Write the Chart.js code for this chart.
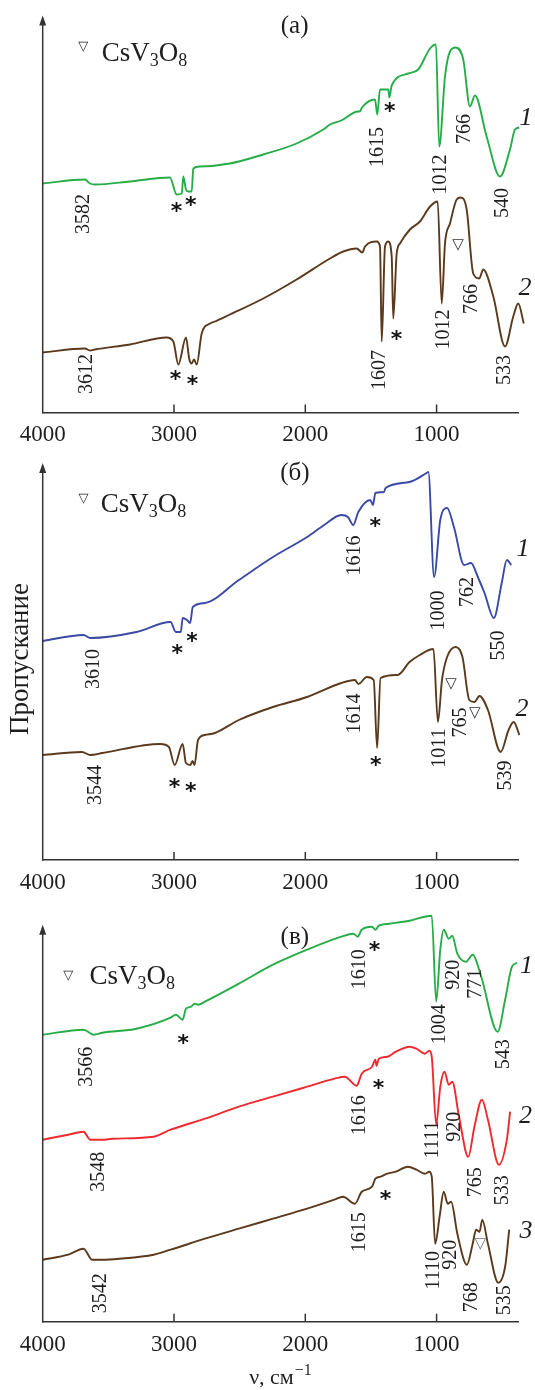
<!DOCTYPE html>
<html><head><meta charset="utf-8">
<script src="https://cdn.jsdelivr.net/npm/chart.js@4"></script>
<style>
html,body{margin:0;padding:0;background:#fff;}
#wrap{position:relative;width:535px;height:1390px;overflow:hidden;}
.panel{position:absolute;left:0;width:535px;}
</style></head><body>
<div id="wrap">
  <div class="panel" style="top:0;height:460px"><canvas id="cA"></canvas></div>
  <div class="panel" style="top:440px;height:460px"><canvas id="cB"></canvas></div>
  <div class="panel" style="top:900px;height:490px"><canvas id="cC"></canvas></div>
</div>
<script>
// ---------- DATA (wavenumber, cm^-1 ; transmittance, arb. units) ----------
const xTickValues = [4000, 3000, 2000, 1000];
const innerTickValues = [3000, 2000, 1000];

// Panel (а)
const wnA1 = [4000,3678,3640,3602,3335,3031,2980,2941,2929,2909,2891,2865,2853,2802,2574,2320,2066,1863,1812,1726,1599,1584,1568,1469,1452,1431,1368,1360,1342,1216,1140,1050,1005,980,936,898,855,797,746,708,619,517,441,403,370];
const trA1 = [229,233,229,228,231,235,218,219,236,223,221,221,244,246,249,258,269,283,288,292,301,301,305,313,298,323,323,315,327,339,343,364,368,266,336,361,365,353,306,317,276,236,263,283,285];
const wnA2 = [4000,3678,3640,3602,3335,3056,3005,2967,2909,2883,2865,2848,2827,2789,2726,2688,2574,2320,2066,1812,1711,1609,1566,1545,1456,1431,1418,1393,1368,1342,1330,1304,1279,1203,1127,1050,992,961,936,898,847,817,771,721,675,645,568,479,416,378,336];
const trA2 = [60,64,62,63,68,75,71,48,75,53,49,53,48,79,89,91,98,114,133,154,161,164,160,166,171,166,71,166,171,156,94,159,169,183,191,206,211,109,169,189,213,215,203,139,134,143,116,66,96,109,89];

// Panel (б)
const wnB1 = [4000,3689,3637,3286,3026,2986,2948,2934,2901,2877,2857,2765,2506,2246,1986,1856,1726,1675,1635,1596,1505,1485,1466,1401,1388,1206,1076,1063,1019,972,920,868,790,738,686,635,564,504,465,431];
const trB1 = [219,225,222,228,238,228,228,242,240,237,253,257,280,303,323,335,345,343,335,348,360,355,367,368,372,378,387,388,283,340,352,333,295,297,283,267,242,277,300,295];
const wnB2 = [4000,3701,3637,3545,3104,3039,2995,2934,2909,2875,2859,2844,2817,2765,2688,2506,2246,1986,1726,1622,1596,1531,1479,1453,1427,1297,1206,1128,1024,990,959,920,855,803,751,712,673,609,512,452,413,369];
const trB2 = [105,108,105,107,116,113,95,116,97,95,99,95,120,125,127,140,153,163,177,180,176,183,180,112,182,185,198,205,211,138,180,203,213,203,160,158,164,150,108,130,138,125];

// Panel (в)
const wnC1 = [4000,3689,3610,3545,3286,3026,2986,2934,2909,2870,2844,2817,2765,2506,2246,1986,1726,1635,1601,1570,1492,1466,1440,1362,1206,1037,1003,972,946,907,881,842,777,725,660,535,478,426,387];
const trC1 = [287,292,287,289,293,304,307,302,313,315,318,317,320,338,357,372,385,388,385,392,395,392,396,398,401,406,320,372,392,383,386,368,360,367,345,290,322,355,359];
const wnC2 = [4000,3805,3689,3637,3545,3468,3155,3026,2765,2506,2246,1986,1778,1700,1609,1570,1492,1466,1458,1440,1375,1310,1206,1154,1089,1055,1037,1003,972,940,907,881,829,759,712,655,609,525,465,440];
const trC2 = [182,187,190,182,182,183,185,192,203,215,225,235,243,245,236,248,255,262,256,263,265,270,275,273,268,271,265,197,235,250,237,240,205,165,195,222,202,157,182,210];
const wnC3 = [4000,3805,3689,3623,3545,3415,3155,3026,2765,2506,2246,1986,1778,1713,1622,1570,1492,1466,1427,1375,1310,1219,1154,1089,1055,1037,1011,977,946,915,889,842,769,725,699,673,652,609,530,478,447];
const trC3 = [62,67,73,62,62,63,67,72,83,93,103,113,122,125,118,130,135,143,145,148,150,155,152,148,150,145,78,105,130,118,120,88,57,78,92,90,102,78,39,55,92];

// Band labels (text, wavenumber, transmittance where the label sits)
const bandLabelsA = [['3582',3701,198],['1615',1462,266],['1012',980,238],['766',797,284],['540',506,210],
                     ['3612',3676,38],['1607',1449,43],['1012',961,83],['766',746,114],['533',492,43]];
const starsA = [[2979,206],[2870,212],[1355,306],[2986,38],[2857,33],[1304,78]];
const trianglesA = [[835,168]];
const curveNumsA = [['1',327,296],['2',327,126]];

const bandLabelsB = [['3610',3623,191],['1616',1635,305],['1000',998,250],['762',777,268],['550',543,215],
                     ['3544',3610,75],['1614',1635,147],['1011',990,112],['765',831,138],['539',484,85]];
const starsB = [[2973,211],[2861,223],[1466,338],[2995,77],[2870,73],[1461,99]];
const trianglesB = [[889,176],[708,147]];
const curveNumsB = [['1',350,313],['2',350,153]];

const bandLabelsC = [['3566',3676,255],['1610',1596,353],['1004',990,298],['920',881,347],['771',712,338],['543',504,268],
                     ['3548',3584,150],['1616',1596,207],['1111',1045,182],['920',874,195],['765',712,140],['533',510,132],
                     ['3542',3571,28],['1615',1596,90],['1110',1037,52],['920',907,67],['768',744,25],['535',496,22]];
const starsC = [[2927,283],[1471,376],[1440,238],[1388,127]];
const trianglesC = [[666,78]];
const curveNumsC = [['1',322,357],['2',322,207],['3',322,92]];

const panelTitles = ['(а)', '(б)', '(в)'];
const legendText = ['CsV', '3', 'O', '8'];
const yTitle = 'Пропускание';
const xTitleMain = 'ν, см';
const xTitleSup = '−1';

// ---------- STYLE ----------
const SERIF = '"Liberation Serif","Times New Roman",serif';
const AXIS = '#333';
const TXT = '#1e1e1e';
const GREEN = '#27ad48', BROWN = '#5a391c', BLUE = '#3949a4', RED = '#ee2a2e';

function drawCentered(ctx, txt, x, y, font, color) {
  ctx.font = font; ctx.fillStyle = color;
  ctx.textAlign = 'left'; ctx.textBaseline = 'alphabetic';
  const m = ctx.measureText(txt);
  ctx.fillText(txt, x - (m.actualBoundingBoxRight - m.actualBoundingBoxLeft) / 2,
                    y + (m.actualBoundingBoxAscent - m.actualBoundingBoxDescent) / 2);
}

function decorPlugin(cfg) {
  return {
    id: 'decor',
    afterDraw(chart) {
      const {ctx, chartArea} = chart;
      const xs = chart.scales.x, ys = chart.scales.y;
      const X = v => xs.getPixelForValue(v), Y = v => ys.getPixelForValue(v);
      ctx.save();
      // y axis with arrow
      const ax = chartArea.left, tipY = Y(397);
      ctx.strokeStyle = AXIS; ctx.fillStyle = AXIS; ctx.lineWidth = 1.5;
      ctx.beginPath(); ctx.moveTo(ax, chartArea.bottom + 0.75); ctx.lineTo(ax, tipY + 6); ctx.stroke();
      ctx.beginPath(); ctx.moveTo(ax, tipY); ctx.lineTo(ax - 3.5, tipY + 10); ctx.lineTo(ax + 3.5, tipY + 10); ctx.closePath(); ctx.fill();
      // inner tick marks
      for (const v of innerTickValues) {
        ctx.beginPath(); ctx.moveTo(X(v), chartArea.bottom); ctx.lineTo(X(v), chartArea.bottom - 8); ctx.stroke();
      }
      // band labels (rotated)
      for (const [t, wv, tv] of cfg.bands) {
        ctx.save(); ctx.translate(X(wv), Y(tv)); ctx.rotate(-Math.PI / 2);
        drawCentered(ctx, t, 0, 0, `20px ${SERIF}`, TXT);
        ctx.restore();
      }
      for (const [wv, tv] of cfg.stars) drawCentered(ctx, '*', X(wv), Y(tv), 'bold 22px "DejaVu Sans"', '#111');
      for (const [wv, tv] of cfg.tris) drawCentered(ctx, '▽', X(wv), Y(tv), 'bold 15px "DejaVu Sans"', cfg.triColor || '#333');
      for (const [t, wv, tv] of cfg.nums) drawCentered(ctx, t, X(wv), Y(tv), `italic 26px ${SERIF}`, TXT);
      // panel title
      drawCentered(ctx, cfg.title[0], X(cfg.title[1]), Y(cfg.title[2]), `25px ${SERIF}`, TXT);
      // legend
      const [lw, lt, tw, tt] = cfg.legend;
      drawCentered(ctx, '▽', X(tw), Y(tt), 'bold 13px "DejaVu Sans"', TXT);
      let cx = X(lw); const by = Y(lt);
      ctx.textAlign = 'left'; ctx.textBaseline = 'alphabetic'; ctx.fillStyle = TXT;
      legendText.forEach((s, i) => {
        const sub = i % 2 === 1;
        ctx.font = sub ? `18px ${SERIF}` : `27px ${SERIF}`;
        ctx.fillText(s, cx, by + (sub ? 5 : 0));
        cx += ctx.measureText(s).width;
      });
      // y title
      if (cfg.yTitle) {
        ctx.save(); ctx.translate(X(cfg.yTitle[1]), Y(cfg.yTitle[2])); ctx.rotate(-Math.PI / 2);
        drawCentered(ctx, cfg.yTitle[0], 0, 0, `27px ${SERIF}`, TXT);
        ctx.restore();
      }
      // x title
      if (cfg.xTitle) {
        const [wv, tv] = cfg.xTitle;
        ctx.font = `22px ${SERIF}`; const w1 = ctx.measureText(xTitleMain).width;
        ctx.font = `16px ${SERIF}`; const w2 = ctx.measureText(xTitleSup).width;
        let sx = X(wv) - (w1 + w2) / 2; const sy = Y(tv);
        ctx.textAlign = 'left'; ctx.textBaseline = 'alphabetic'; ctx.fillStyle = TXT;
        ctx.font = `22px ${SERIF}`; ctx.fillText(xTitleMain, sx, sy);
        ctx.font = `16px ${SERIF}`; ctx.fillText(xTitleSup, sx + w1 + 1, sy - 9);
      }
      ctx.restore();
    }
  };
}

function makePanel(id, series, layout, cfg) {
  return new Chart(document.getElementById(id), {
    type: 'line',
    data: {
      datasets: series.map(s => ({
        data: s.wn.map((v, i) => ({x: v, y: s.tr[i]})),
        borderColor: s.color, borderWidth: 1.9, pointRadius: 0, fill: false,
        cubicInterpolationMode: 'monotone', clip: false
      }))
    },
    options: {
      responsive: true, maintainAspectRatio: false, animation: false,
      layout: {padding: {left: 42.7, right: 17, top: layout.top, bottom: layout.bottom}},
      plugins: {legend: {display: false}, tooltip: {enabled: false}},
      events: [],
      scales: {
        x: {
          type: 'linear', reverse: true, min: 380, max: 4000,
          afterBuildTicks: s => { s.ticks = xTickValues.map(v => ({value: v})); },
          afterFit: s => { s.height = 40; },
          grid: {display: false, drawTicks: false},
          border: {display: true, color: AXIS, width: 1.5},
          ticks: {font: {family: SERIF, size: 23}, color: TXT, padding: 9, maxRotation: 0, autoSkip: false,
                  callback: v => String(v)}
        },
        y: {display: false, min: 0, max: 400}
      }
    },
    plugins: [decorPlugin(cfg)]
  });
}

makePanel('cA', [
  {wn: wnA1, tr: trA1, color: GREEN},
  {wn: wnA2, tr: trA2, color: BROWN}
], {top: 12.5, bottom: 7.5}, {
  bands: bandLabelsA, stars: starsA, tris: trianglesA, nums: curveNumsA,
  title: [panelTitles[0], 2079, 386], legend: [3551, 351.5, 3691, 366]
});

makePanel('cB', [
  {wn: wnB1, tr: trB1, color: BLUE},
  {wn: wnB2, tr: trB2, color: BROWN}
], {top: 20, bottom: 0}, {
  bands: bandLabelsB, stars: starsB, tris: trianglesB, nums: curveNumsB,
  title: [panelTitles[1], 2077, 387], legend: [3558, 348, 3689, 362],
  yTitle: [yTitle, 4154, 201]
});

makePanel('cC', [
  {wn: wnC1, tr: trC1, color: GREEN},
  {wn: wnC2, tr: trC2, color: RED},
  {wn: wnC3, tr: trC3, color: BROWN}
], {top: 21.7, bottom: 28.3}, {
  bands: bandLabelsC, stars: starsC, tris: trianglesC, nums: curveNumsC, triColor: '#777',
  title: [panelTitles[2], 2077, 384], legend: [3644, 338, 3805, 346],
  xTitle: [2193, -62]
});
</script>
</body></html>
